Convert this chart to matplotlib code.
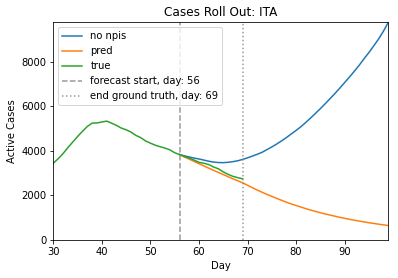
import numpy as np
import matplotlib
matplotlib.use("Agg")
import matplotlib.pyplot as plt

# Ground truth (days 30..69)
true_days = list(range(30, 70))
true_vals = [3450, 3650, 3880, 4150, 4400, 4650, 4880, 5100, 5250, 5260,
             5300, 5340, 5250, 5150, 5030, 4950, 4850, 4700, 4600, 4450,
             4350, 4260, 4190, 4130, 4050, 3920, 3840, 3750, 3680, 3590,
             3490, 3450, 3390, 3280, 3200, 3060, 2950, 2860, 2800, 2750]

# Forecasts (days 56..99)
fc_days = list(range(56, 100))
pred_vals = [3840, 3730, 3630, 3530, 3430, 3330, 3230, 3130, 3035, 2940,
             2845, 2750, 2660, 2570, 2460, 2350, 2245, 2145, 2050, 1960,
             1870, 1785, 1700, 1620, 1550, 1480, 1410, 1345, 1285, 1225,
             1170, 1120, 1070, 1020, 975, 930, 890, 850, 815, 775,
             745, 710, 680, 650]
no_npis_vals = [3840, 3780, 3730, 3680, 3640, 3590, 3540, 3500, 3480, 3475,
                3490, 3520, 3560, 3620, 3690, 3770, 3850, 3940, 4060, 4180,
                4310, 4450, 4600, 4760, 4920, 5090, 5280, 5480, 5690, 5900,
                6120, 6350, 6580, 6820, 7070, 7320, 7580, 7850, 8140, 8420,
                8720, 9030, 9380, 9780]

forecast_start = 56
end_truth = 69

fig = plt.figure(figsize=(398 / 72, 278 / 72), dpi=72)
ax = fig.add_axes([53.3 / 398, 1 - 240 / 278, (388.3 - 53.3) / 398, (240 - 22.3) / 278])

ax.plot(fc_days, no_npis_vals, color="#1f77b4", label="no npis")
ax.plot(fc_days, pred_vals, color="#ff7f0e", label="pred")
ax.plot(true_days, true_vals, color="#2ca02c", label="true")
ax.axvline(forecast_start, color="gray", linestyle="--", alpha=0.8,
           label=f"forecast start, day: {forecast_start}")
ax.axvline(end_truth, color="gray", linestyle=":", alpha=0.8,
           label=f"end ground truth, day: {end_truth}")

ax.set_xlim(min(true_days), max(fc_days))
ax.set_ylim(0, max(no_npis_vals))
ax.set_xticks([30, 40, 50, 60, 70, 80, 90])
ax.set_yticks([0, 2000, 4000, 6000, 8000])
ax.set_xlabel("Day")
ax.set_ylabel("Active Cases")
ax.set_title("Cases Roll Out: ITA", fontsize=12)
ax.legend(loc="upper left")

fig.savefig("out.png", dpi=72)
